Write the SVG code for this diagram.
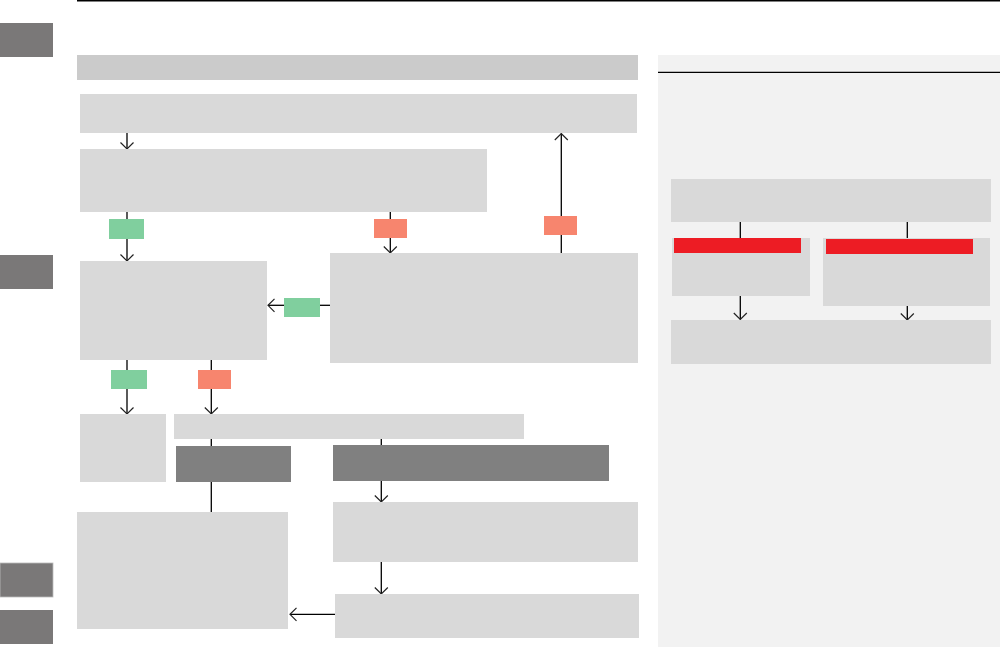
<svg xmlns="http://www.w3.org/2000/svg" width="1000" height="647" viewBox="0 0 1000 647">
<defs>
<style>
.box{fill:#d9d9d9}
.dark{fill:#808080}
.tab{fill:#7a7878}
.ok{fill:#80cf9e}
.no{fill:#f7856e}
.red{fill:#ed1c24}
.ln{stroke:#000;stroke-width:1.3;fill:none}
.ar{stroke:#000;stroke-width:1.3;fill:none;marker-end:url(#ah)}
</style>
<marker id="ah" markerUnits="userSpaceOnUse" viewBox="-8 -8 10 16" refX="0" refY="0" markerWidth="10" markerHeight="16" orient="auto">
<path d="M-6.5,-6.5 L0,0 L-6.5,6.5" fill="none" stroke="#222" stroke-width="1.2"/>
</marker>
</defs>
<rect width="1000" height="647" fill="#fff"/>
<line x1="77" y1="0.7" x2="1000" y2="0.7" stroke="#000" stroke-width="1.4"/>
<g id="tabs">
<rect class="tab" x="0" y="23" width="53" height="34"/>
<rect class="tab" x="0" y="255" width="53" height="34"/>
<rect class="tab" x="0" y="563" width="53" height="34" stroke="#bbb" stroke-width="0.8"/>
<rect class="tab" x="0" y="610" width="53" height="34"/>
</g>
<g id="header"><rect x="77" y="55" width="561" height="25" fill="#cbcbcb"/></g>
<g id="panel">
<rect x="658" y="55" width="342" height="592" fill="#f2f2f2"/>
<line x1="658" y1="72.3" x2="1000" y2="72.3" stroke="#000" stroke-width="1.3"/>
</g>
<g id="connectors">
<line class="ar" x1="127" y1="133" x2="127" y2="149"/>
<line class="ln" x1="127" y1="212" x2="127" y2="219"/>
<line class="ar" x1="127" y1="239" x2="127" y2="261"/>
<line class="ln" x1="390.3" y1="212" x2="390.3" y2="219"/>
<line class="ar" x1="390.3" y1="238" x2="390.3" y2="253"/>
<line class="ln" x1="561.3" y1="253" x2="561.3" y2="235"/>
<line class="ar" x1="561.3" y1="216" x2="561.3" y2="133.5"/>
<line class="ln" x1="330" y1="305.3" x2="320" y2="305.3"/>
<line class="ar" x1="284" y1="305.3" x2="268" y2="305.3"/>
<line class="ln" x1="127" y1="360" x2="127" y2="370"/>
<line class="ar" x1="127" y1="389" x2="127" y2="414"/>
<line class="ln" x1="211.3" y1="360" x2="211.3" y2="370"/>
<line class="ar" x1="211.3" y1="389" x2="211.3" y2="414"/>
<line class="ln" x1="211.3" y1="439" x2="211.3" y2="446"/>
<line class="ln" x1="211.3" y1="482" x2="211.3" y2="512"/>
<line class="ln" x1="381.3" y1="439" x2="381.3" y2="445"/>
<line class="ar" x1="381.3" y1="481" x2="381.3" y2="502"/>
<line class="ar" x1="381.3" y1="562" x2="381.3" y2="594"/>
<line class="ar" x1="335" y1="614.3" x2="290" y2="614.3"/>
<line class="ln" x1="740.3" y1="222" x2="740.3" y2="238"/>
<line class="ln" x1="907.3" y1="222" x2="907.3" y2="238"/>
<line class="ar" x1="740.3" y1="296" x2="740.3" y2="319.5"/>
<line class="ar" x1="907.3" y1="306" x2="907.3" y2="320"/>
</g>
<g id="nA"><rect class="box" x="80" y="94" width="557" height="39"/></g>
<g id="nB"><rect class="box" x="80" y="149" width="407" height="63"/></g>
<g id="lbl1"><rect class="ok" x="109" y="219" width="35" height="20"/></g>
<g id="lbl2"><rect class="no" x="374" y="219" width="33" height="19"/></g>
<g id="lbl3"><rect class="no" x="544" y="216" width="33" height="19"/></g>
<g id="nC"><rect class="box" x="80" y="261" width="187" height="99"/></g>
<g id="nD"><rect class="box" x="330" y="253" width="308" height="110"/></g>
<g id="lbl4"><rect class="ok" x="284" y="298" width="36" height="19"/></g>
<g id="lbl5"><rect class="ok" x="111" y="370" width="36" height="19"/></g>
<g id="lbl6"><rect class="no" x="198" y="370" width="33" height="19"/></g>
<g id="nE"><rect class="box" x="80" y="414" width="86" height="68"/></g>
<g id="nF"><rect class="box" x="174" y="414" width="350" height="25"/></g>
<g id="nG"><rect class="dark" x="176" y="446" width="115" height="36"/></g>
<g id="nH"><rect class="box" x="77" y="512" width="211" height="117"/></g>
<g id="nI"><rect class="dark" x="333" y="445" width="276" height="36"/></g>
<g id="nJ"><rect class="box" x="333" y="502" width="305" height="60"/></g>
<g id="nK"><rect class="box" x="335" y="594" width="304" height="44"/></g>
<g id="nP1"><rect class="box" x="671" y="179" width="320" height="43"/></g>
<g id="nP2"><rect class="box" x="672" y="238" width="138" height="58"/><rect class="red" x="674" y="238" width="127" height="15"/></g>
<g id="nP3"><rect class="box" x="823" y="238" width="167" height="68"/><rect class="red" x="826" y="239" width="147" height="15"/></g>
<g id="nP4"><rect class="box" x="671" y="320" width="320" height="44"/></g>
</svg>
